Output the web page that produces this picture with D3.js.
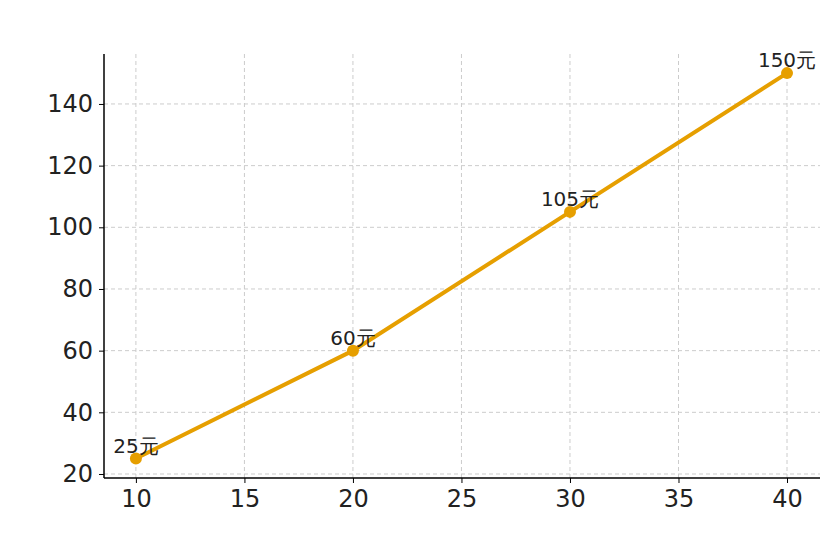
<!DOCTYPE html><html><head><script src="https://cdn.jsdelivr.net/npm/d3@7"></script>
<style>body{margin:0;background:#fff}text{font-family:"DejaVu Sans",sans-serif}</style></head><body><svg width="840" height="560"></svg><script>
const xs=[10,20,30,40];
const ys=[25,60,105,150];
const labels=["25元","60元","105元","150元"];
const xTicks=[10,15,20,25,30,35,40];
const yTicks=[20,40,60,80,100,120,140];
const svg=d3.select("svg");
const x=d3.scaleLinear().domain([8.53,41.52]).range([104,820]);
const y=d3.scaleLinear().domain([18.7,156.2]).range([478,54]);
const g=svg.append("g");
g.selectAll(".vx").data(xTicks).join("line").attr("x1",d=>x(d)).attr("x2",d=>x(d)).attr("y1",54).attr("y2",478).attr("stroke","#ccc").attr("stroke-dasharray","4,3");
g.selectAll(".hy").data(yTicks).join("line").attr("y1",d=>y(d)).attr("y2",d=>y(d)).attr("x1",104).attr("x2",820).attr("stroke","#ccc").attr("stroke-dasharray","4,3");
const xa=svg.append("g").attr("transform","translate(0,478)").call(d3.axisBottom(x).tickValues(xTicks).tickSize(5).tickPadding(7));
const ya=svg.append("g").attr("transform","translate(104,0)").call(d3.axisLeft(y).tickValues(yTicks).tickSize(5).tickPadding(6));
[xa,ya].forEach(a=>{a.selectAll("text").style("font-size","24px").attr("fill","#222");a.select(".domain").attr("stroke","#000").attr("stroke-width",1.5);a.selectAll(".tick line").attr("stroke","#000");});
xa.select(".domain").attr("d","M104,0H820");ya.select(".domain").attr("d","M0,478V54");
const pts=xs.map((v,i)=>[v,ys[i]]);
svg.append("path").datum(pts).attr("d",d3.line().x(d=>x(d[0])).y(d=>y(d[1]))).attr("fill","none").attr("stroke","#E69F00").attr("stroke-width",4);
svg.selectAll(".pt").data(pts).join("circle").attr("cx",d=>x(d[0])).attr("cy",d=>y(d[1])).attr("r",6).attr("fill","#E69F00");
svg.selectAll(".lb").data(pts).join("text").attr("x",d=>x(d[0])).attr("y",d=>y(d[1])-6).attr("text-anchor","middle").style("font-size","20px").attr("fill","#222").text((d,i)=>labels[i]);
</script></body></html>
